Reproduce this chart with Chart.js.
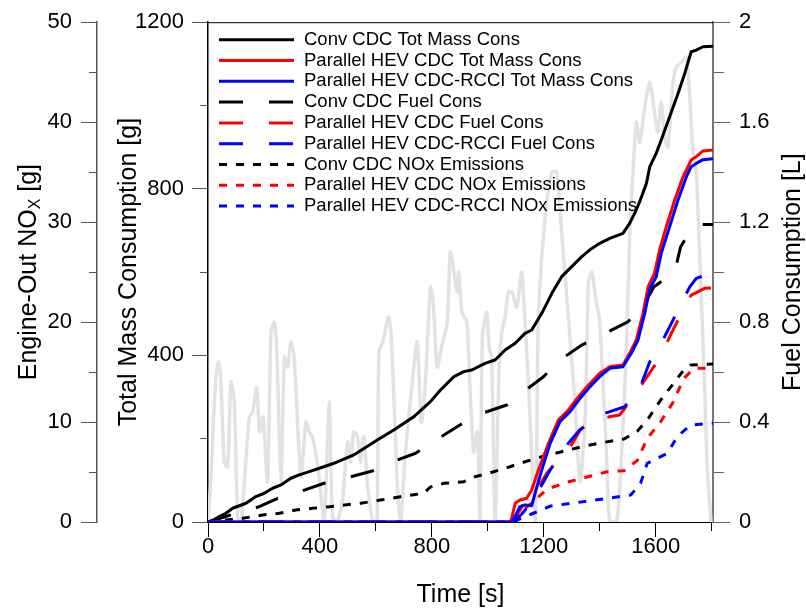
<!DOCTYPE html>
<html>
<head>
<meta charset="utf-8">
<script src="https://cdn.jsdelivr.net/npm/chart.js@4.4.1/dist/chart.umd.min.js"></script>
<style>
  html, body { margin: 0; padding: 0; background: #fff; }
</style>
</head>
<body>
<canvas id="consChart" width="806" height="610"></canvas>
<script>
// cumulative curves, time in s
const convTotTime = [0,20,40,64,88,136,171,201,231,261,296,326,362,398,450,521,605,664,736,795,831,879,914,943,990,1026,1062,1098,1133,1157,1193,1229,1264,1300,1336,1364,1400,1436,1483,1507,1525,1543,1567,1579,1602,1620,1650,1680,1704,1727,1745,1769,1805];
const convTotMass = [0,5,13,21,33,45,61,69,81,89,105,113,121,129,141,161,197,221,253,289,317,349,361,365,381,389,413,429,453,461,501,549,589,613,637,653,669,681,693,717,741,769,813,853,885,917,973,1029,1077,1129,1133,1141,1142];

const hevTotTime = [0,1080,1085,1098,1115,1139,1157,1181,1217,1252,1288,1324,1360,1400,1436,1483,1507,1531,1555,1573,1596,1614,1638,1668,1698,1727,1745,1769,1805];
const hevTotMass = [0,0,8,45,53,57,77,125,189,245,269,301,329,357,373,377,405,437,501,565,597,653,709,773,829,869,877,891,893];

const rcciTotTime = [0,1086,1095,1115,1133,1157,1169,1193,1223,1258,1294,1330,1366,1400,1436,1483,1513,1537,1561,1579,1602,1620,1650,1680,1710,1727,1745,1769,1805];
const rcciTotMass = [0,0,10,37,41,39,69,125,189,241,265,297,325,349,369,373,405,437,501,560,589,645,709,773,829,853,861,870,872];

const convFuelTime = [0,30,100,177,249,338,415,504,587,670,742,825,910,979,1068,1127,1199,1258,1336,1406,1499,1546,1594,1668,1689,1731,1760,1805];
const convFuelVol = [0,0.01,0.035,0.059,0.095,0.125,0.155,0.179,0.204,0.245,0.275,0.335,0.395,0.435,0.468,0.521,0.581,0.648,0.708,0.748,0.80,0.845,0.941,1.0,1.10,1.18,1.19,1.19];

const hevFuelTime = [0,1080,1100,1127,1160,1211,1246,1290,1330,1365,1388,1430,1471,1513,1573,1614,1656,1698,1727,1775,1805];
const hevFuelVol = [0,0,0.02,0.07,0.10,0.195,0.241,0.29,0.368,0.401,0.415,0.42,0.428,0.488,0.588,0.655,0.755,0.848,0.908,0.935,0.937];

const rcciFuelTime = [0,1090,1120,1163,1223,1288,1330,1364,1418,1489,1543,1579,1620,1662,1698,1722,1745,1769,1805];
const rcciFuelVol = [0,0,0.03,0.088,0.208,0.315,0.37,0.395,0.435,0.461,0.535,0.641,0.715,0.808,0.888,0.941,0.975,0.984,0.984];

const convNoxTime = [0,64,124,195,255,314,374,433,545,617,688,771,795,843,914,955,1002,1062,1133,1193,1264,1336,1400,1487,1535,1570,1618,1665,1700,1725,1805];
const convNoxMass = [0,0.2,0.37,0.7,0.87,1.2,1.37,1.53,1.87,2.2,2.53,2.87,3.5,3.87,4.03,4.53,4.87,5.37,6.03,6.53,7.03,7.53,7.9,8.3,9.1,10.2,12.2,13.9,15.2,15.7,15.8];

const hevNoxTime = [0,1085,1110,1165,1213,1285,1368,1427,1487,1535,1570,1618,1660,1701,1737,1805];
const hevNoxMass = [0,0,0.8,2.1,3.3,4.0,4.6,5.03,5.13,6.17,8.37,10.03,11.87,14.37,15.37,15.4];

const rcciNoxTime = [0,1095,1106,1165,1225,1308,1427,1511,1546,1570,1642,1677,1725,1805];
const rcciNoxMass = [0,0,0.2,0.9,1.6,1.9,2.37,2.7,3.87,5.87,6.87,8.53,9.7,9.87];

// drive-cycle trace in the background (no axis shown, 0-100 of plot height)
const speedTime = [0,10,19,30,38,46,58,70,82,94,106,118,130,148,160,174,184,196,213,225,237,246,261,273,285,296,308,332,350,362,374,395,415,433,445,460,480,499,510,521,535,545,551,558,569,590,604,611,625,646,658,676,688,706,730,748,762,777,795,805,819,835,855,866,879,890,896,908,925,931,949,963,972,981,996,1005,1014,1026,1040,1050,1062,1074,1086,1104,1121,1133,1145,1170,1181,1205,1229,1246,1264,1288,1310,1330,1348,1360,1372,1385,1400,1424,1436,1460,1475,1495,1507,1519,1531,1543,1561,1579,1596,1608,1620,1632,1644,1662,1674,1692,1710,1722,1733,1745,1757,1775,1785,1798];
const speedTrace = [0,8,20,30,32,28,12,11,28,24,1,0,8,21,22,27,18,21,8,38,40,34,8,33,31,36,33,9,20,18,17,10,0,24,1,0,4,16,12,18,17,12,16,17,8,0,0,34,36,41,34,8,0,14,28,36,20,28,47,44,31,35,40,54,50,46,50,42,40,34,14,18,0,37,42,35,33,0,30,38,41,46,46,43,50,40,28,0,41,61,70,70,58,41,25,8,21,48,50,45,40,14,0,0,10,34,57,70,80,76,83,88,82,78,84,77,75,88,91,92,93,85,74,70,54,27,10,0];

// axis ticks (all marks) and the ones that get a label
const xTickValues = [0,200,400,600,800,1000,1200,1400,1600,1800];
const xTickLabels = [0,400,800,1200,1600];
const massTickValues = [0,200,400,600,800,1000,1200];
const massTickLabels = [0,400,800,1200];
const noxTickValues = [0,5,10,15,20,25,30,35,40,45,50];
const noxTickLabels = [0,10,20,30,40,50];
const fuelTickValues = [0,0.2,0.4,0.6,0.8,1,1.2,1.4,1.6,1.8,2];
const fuelTickLabels = [0,0.4,0.8,1.2,1.6,2];

const FONT = "'Liberation Sans', Arial, sans-serif";
const SOLID = [], DASH = [24, 26], DOT = [8, 9];

const pts = (t, v) => t.map((x, i) => ({x: x, y: v[i]}));
const has = (arr, v) => arr.some(a => Math.abs(a - v) < 1e-6);

// minor ticks: only part of the long tick is stroked
function tickDash(labels, minor) {
  return c => (c.tick && !has(labels, c.tick.value)) ? [minor, 300] : [];
}
function tickOffset(labels, len, minor, outerFirst) {
  return c => (c.tick && !has(labels, c.tick.value) && outerFirst) ? 300 + 2 * minor - len : 0;
}

function line(label, t, v, color, dash, axis, order) {
  return {
    label: label,
    data: pts(t, v),
    yAxisID: axis,
    borderColor: color,
    borderDash: dash,
    borderWidth: 3,
    borderCapStyle: 'butt',
    borderJoinStyle: 'round',
    pointRadius: 0,
    tension: 0,
    order: order
  };
}

const datasets = [
  line('Conv CDC Tot Mass Cons', convTotTime, convTotMass, '#000000', SOLID, 'yMass', 2),
  line('Parallel HEV CDC Tot Mass Cons', hevTotTime, hevTotMass, '#ff0000', SOLID, 'yMass', 1),
  line('Parallel HEV CDC-RCCI Tot Mass Cons', rcciTotTime, rcciTotMass, '#0000ff', SOLID, 'yMass', 0),
  line('Conv CDC Fuel Cons', convFuelTime, convFuelVol, '#000000', DASH, 'yFuel', 5),
  line('Parallel HEV CDC Fuel Cons', hevFuelTime, hevFuelVol, '#ff0000', DASH, 'yFuel', 4),
  line('Parallel HEV CDC-RCCI Fuel Cons', rcciFuelTime, rcciFuelVol, '#0000ff', DASH, 'yFuel', 3),
  line('Conv CDC NOx Emissions', convNoxTime, convNoxMass, '#000000', DOT, 'yNox', 8),
  line('Parallel HEV CDC NOx Emissions', hevNoxTime, hevNoxMass, '#ff0000', DOT, 'yNox', 7),
  line('Parallel HEV CDC-RCCI NOx Emissions', rcciNoxTime, rcciNoxMass, '#0000ff', DOT, 'yNox', 6),
  {
    data: pts(speedTime, speedTrace),
    yAxisID: 'ySpeed',
    borderColor: '#e2e2e2',
    borderWidth: 3.5,
    pointRadius: 0,
    tension: 0.25,
    order: 10
  }
];

// legend sits inside the plot, top left
const insideLegend = {
  id: 'insideLegend',
  afterDatasetsDraw(chart) {
    const ctx = chart.ctx;
    const x0 = chart.chartArea.left + 11;
    ctx.save();
    ctx.font = '18.5px ' + FONT;
    ctx.textBaseline = 'middle';
    ctx.fillStyle = '#000';
    chart.data.datasets.filter(d => d.label).forEach((d, i) => {
      const y = chart.chartArea.top + 17.5 + i * 20.8;
      ctx.beginPath();
      ctx.setLineDash(d.borderDash);
      ctx.lineDashOffset = 0;
      ctx.strokeStyle = d.borderColor;
      ctx.lineWidth = 3;
      ctx.moveTo(x0, y);
      ctx.lineTo(x0 + 75, y);
      ctx.stroke();
      ctx.setLineDash([]);
      ctx.fillText(d.label, x0 + 85, y);
    });
    ctx.restore();
  }
};

// rotated title reading bottom to top; parts = [text, size, shift]
function sideTitle(ctx, cx, cy, parts) {
  ctx.save();
  ctx.translate(cx, cy);
  ctx.rotate(-Math.PI / 2);
  ctx.fillStyle = '#000';
  ctx.textBaseline = 'middle';
  const widths = parts.map(p => { ctx.font = p[1] + 'px ' + FONT; return ctx.measureText(p[0]).width; });
  let x = -widths.reduce((a, b) => a + b, 0) / 2;
  parts.forEach((p, i) => {
    ctx.font = p[1] + 'px ' + FONT;
    ctx.fillText(p[0], x, p[2]);
    x += widths[i];
  });
  ctx.restore();
}

// top edge of the frame, NOx title with its subscript, fuel title
const frameAndTitles = {
  id: 'frameAndTitles',
  afterDraw(chart) {
    const ctx = chart.ctx;
    const a = chart.chartArea;
    ctx.save();
    ctx.strokeStyle = '#000';
    ctx.lineWidth = 1;
    ctx.beginPath();
    ctx.moveTo(a.left, a.top + 0.5);
    ctx.lineTo(a.right, a.top + 0.5);
    ctx.stroke();
    ctx.restore();

    const n = chart.scales.yNox;
    sideTitle(ctx, n.left + 29, (n.top + n.bottom) / 2,
      [['Engine-Out NO', 25, 0], ['X', 16, 7], [' [g]', 25, 0]]);
    const f = chart.scales.yFuel;
    sideTitle(ctx, f.right - 13, (f.top + f.bottom) / 2, [['Fuel Consumption [L]', 25, 0]]);
  }
};

const tickFont = {family: FONT, size: 22};
const titleFont = {family: FONT, size: 25, lineHeight: 1.2};

new Chart(document.getElementById('consChart'), {
  type: 'line',
  data: { datasets: datasets },
  plugins: [insideLegend, frameAndTitles],
  options: {
    responsive: false,
    animation: false,
    devicePixelRatio: 1,
    layout: { padding: { top: 21, left: 0, right: 0, bottom: 0 } },
    plugins: {
      legend: { display: false },
      tooltip: { enabled: false }
    },
    scales: {
      x: {
        type: 'linear',
        min: 0,
        max: 1805,
        afterBuildTicks: s => { s.ticks = xTickValues.map(v => ({value: v})); },
        afterFit: s => { s.height = 88; },
        ticks: {
          autoSkip: false, maxRotation: 0, padding: -3, color: '#000', font: tickFont,
          callback: v => has(xTickLabels, v) ? String(v) : ''
        },
        grid: {
          drawOnChartArea: false, tickLength: 15, tickColor: '#000', tickWidth: 1,
          tickBorderDash: tickDash(xTickLabels, 8),
          tickBorderDashOffset: tickOffset(xTickLabels, 15, 8, false)
        },
        border: { color: '#000', width: 1 },
        title: { display: true, text: 'Time [s]', color: '#000', font: titleFont, padding: 0 }
      },
      yMass: {
        position: 'left',
        weight: 0,
        min: 0,
        max: 1200,
        afterBuildTicks: s => { s.ticks = massTickValues.map(v => ({value: v})); },
        afterFit: s => { s.width = 111; },
        ticks: {
          autoSkip: false, padding: 8, color: '#000', font: tickFont,
          callback: v => has(massTickLabels, v) ? String(v) : ''
        },
        grid: {
          drawOnChartArea: false, tickLength: 16, tickColor: '#555', tickWidth: 1,
          tickBorderDash: tickDash(massTickLabels, 8),
          tickBorderDashOffset: tickOffset(massTickLabels, 16, 8, true)
        },
        border: { color: '#000', width: 1.5 },
        title: {
          display: true, text: 'Total Mass Consumption [g]', color: '#000', font: titleFont,
          padding: { top: 17, bottom: 0 }
        }
      },
      yNox: {
        position: 'left',
        weight: 1,
        min: 0,
        max: 50,
        afterBuildTicks: s => { s.ticks = noxTickValues.map(v => ({value: v})); },
        afterFit: s => { s.width = 97; },
        ticks: {
          autoSkip: false, padding: 9, color: '#000', font: tickFont,
          callback: v => has(noxTickLabels, v) ? String(v) : ''
        },
        grid: {
          drawOnChartArea: false, tickLength: 16, tickColor: '#555', tickWidth: 1,
          tickBorderDash: tickDash(noxTickLabels, 8),
          tickBorderDashOffset: tickOffset(noxTickLabels, 16, 8, true)
        },
        border: { color: '#555', width: 1.5 },
        title: { display: false }
      },
      yFuel: {
        position: 'right',
        min: 0,
        max: 2,
        afterBuildTicks: s => { s.ticks = fuelTickValues.map(v => ({value: v})); },
        afterFit: s => { s.width = 93; },
        ticks: {
          autoSkip: false, padding: 9, color: '#000', font: tickFont,
          callback: v => has(fuelTickLabels, v) ? String(Math.round(v * 10) / 10) : ''
        },
        grid: {
          drawOnChartArea: false, tickLength: 17, tickColor: '#666', tickWidth: 1,
          tickBorderDash: tickDash(fuelTickLabels, 10),
          tickBorderDashOffset: tickOffset(fuelTickLabels, 17, 10, false)
        },
        border: { color: '#777', width: 2 },
        title: { display: false }
      },
      ySpeed: {
        display: false,
        min: 0,
        max: 100
      }
    }
  }
});
</script>
</body>
</html>
